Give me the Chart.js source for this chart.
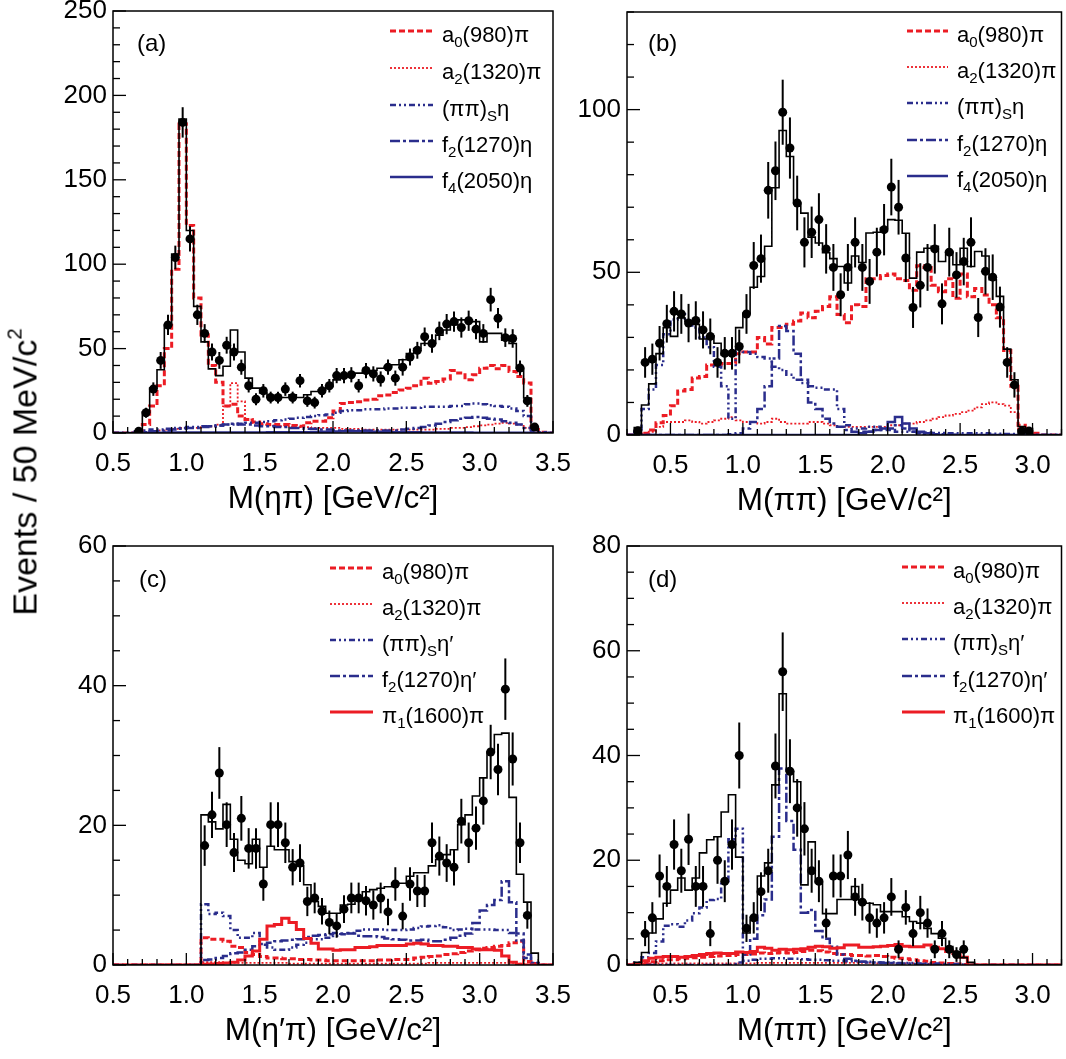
<!DOCTYPE html>
<html><head><meta charset="utf-8">
<script src="https://cdn.jsdelivr.net/npm/chart.js@4.4.0/dist/chart.umd.min.js"></script>
<style>
html,body{margin:0;padding:0;background:#fff;}
#wrap{position:relative;width:1066px;height:1059px;overflow:hidden;background:#fff;}
canvas{position:absolute;left:0;top:0;}
#ytitle{position:absolute;left:25px;top:472px;transform:translate(-50%,-50%) rotate(-90deg);white-space:nowrap;font-family:'Liberation Sans',Arial,Helvetica,sans-serif;font-size:34px;color:#000;}
#ytitle sup{font-size:0.6em;vertical-align:0.75em;line-height:0;}
</style></head>
<body>
<div id="wrap">
<canvas id="ca" width="1066" height="1059"></canvas>
<canvas id="cb" width="1066" height="1059"></canvas>
<canvas id="cc" width="1066" height="1059"></canvas>
<canvas id="cd" width="1066" height="1059"></canvas>
<div id="ytitle">Events / 50 MeV/c<sup>2</sup></div>
</div>
<script>
// ---------------- DATA ----------------
const binWidth = 0.05; // GeV/c^2 (50 MeV)

// Panel (a): M(eta pi)
const aBinStart = 0.65;
const aData = [1,12,26,43,64, 104,184,115,70,59, 48,43,52,48,39, 28,20,25,21,21, 26,21,31,19,18, 25,28,34,34,34.5, 28,37,35,32,39, 32.5,39,45,49,57, 53,60.5,64.5,66,62.5, 66.5,61.5,59,79,68, 56.5,56,38.5,19,3.5];
const aErr = [1.5,3,4,5,6, 7,9,7.5,6,5.5, 5,5,5,5,4.5, 4,3.5,4,3.5,3.5, 4,3.5,4,3.5,3.5, 4,4,4.5,4.5,4.5, 4,4.5,4.5,4.5,4.5, 4.5,5,5,5,5.5, 5.5,5.5,6,6,6, 6,6,5.5,7,6, 5.5,5.5,4.5,3.5,2];
const aTotal = [1,12.4,26.6,37.5,64, 106,186,120,75,54, 38,34,39.5,61,48, 32.5,26.6,23.7,21,21, 21,22.7,21,22.7,24.6, 25.6,27.6,31.5,33.5,34.5, 35.5,36,37,38.4,39.4, 40.4,43.4,47,50,53, 53,58,61,64,67, 67,66,54,59,59, 55,53,38.4,20.7,3, 0];
const aA0 = [0.5,5,16,28,50, 97,183,123,80,58, 40,30,16,17,10, 8,6.5,5.5,5,5, 5,4.5,4,6,7, 7,9,13,17.5,18, 18.5,19.5,20,22,22.5, 24,25.5,26.5,28,32.5, 29.5,30.5,32,37,35.5, 31.5,34.5,38.4,40,38, 40,36.5,33.5,29.6,2, 0.5];
const aA2 = [0,0.5,1,1.5,2, 2.5,3,3,3,3.5, 4,5,15.8,29.6,18.7, 8,6,5,4.5,4, 4,3.5,3.5,3.5,3, 3,3,3,2.5,2.5, 2.5,2,2,2,2, 2,2,2,2,2, 2,2.5,2.5,3,3, 3.5,4,4.5,5,5.5, 6,5.5,5,3,0.5, 0];
const aPiPiS = [1,1.5,2,2,2.5, 3,3,3.5,3.5,4, 4,4.5,5,5,5.5, 6,6,6.5,7,7.5, 8,8.5,9,9.5,10, 10.5,11,12,13,13.5, 13.5,14,14,14,14.5, 14.5,15,15,15,15.5, 15.5,15.5,15.5,16,16, 17,17.5,17,16.5,16, 15.5,14.5,13,10,2, 0.5];
const aF2 = [0.5,0.5,1,1,1.5, 2,2.5,3,3,3.5, 4,4.5,5,5.5,5, 5,4.5,4,4,3.5, 3.5,3,3,2.5,2.5, 2,2,1.5,1.5,1.5, 1.5,1.5,1.5,1.5,1.5, 1.5,2,2.5,3,3.5, 4.5,5.5,6.5,7.5,8.5, 9,9.5,9,8.5,8, 7,6,5,3,0.5, 0];
const aF4 = [0.2,0.2,0.2,0.2,0.3, 0.3,0.3,0.3,0.3,0.3, 0.3,0.3,0.3,0.3,0.3, 0.3,0.3,0.3,0.4,0.4, 0.4,0.4,0.5,0.5,0.6, 0.7,0.8,0.9,1.0,1.0, 1.0,0.9,0.8,0.7,0.6, 0.5,0.5,0.4,0.4,0.3, 0.3,0.3,0.3,0.3,0.3, 0.3,0.2,0.2,0.2,0.2, 0.2,0.2,0.2,0.2,0.1, 0];

// Panel (b): M(pi pi), eta pi pi
const bBinStart = 0.20;
const bDataStart = 0.25;
const bData = [1.3,22.3,23.3,28.2,34.2, 38,37.2,34.4,35.2,32.3, 30.3,22.3,25.1,25.1,27.2, 37.2,52.1,54.2,75.2,81.2, 99.2,88.2,71.3,59.2,62.3, 66.2,57.2,51.5,43.1,51.5, 59.2,51.5,47.2,56.2,63.1, 76.2,70,54.4,39.2,46, 51.5,57.2,40.3,56.2,49.2, 53.3,59.2,36.1,50.3,48.5, 39.3,22.3,15.4,1.2,1.2];
const bErr = [1.2,4.7,4.8,5.3,5.8, 6.2,6.1,5.9,5.9,5.7, 5.5,4.7,5,5,5.2, 6.1,7.2,7.4,8.7,9, 10,9.4,8.4,7.7,7.9, 8.1,7.6,7.2,6.6,7.2, 7.7,7.2,6.9,7.5,7.9, 8.7,8.4,7.4,6.3,6.8, 7.2,7.6,6.3,7.5,7, 7.3,7.7,6,7.1,7, 6.3,4.7,3.9,1.1,1.1];
const bTotal = [0,2.3,9.2,15.7,25, 33,30.3,36,35,34, 29.5,30.5,28.2,24.6,24.6, 33,37.4,45.4,48.7,58, 76,93.6,85.6,71.3,68.2, 60.8,59,56,54.2,51.8, 46.7,55,53,62.1,62.3, 63.6,66.2,66,62,48.2, 56.2,57.4,58,53.3,56.4, 52.3,57.4,51.8,56.4,55, 47.7,42.6,26.4,17,2.6, 2,0,0];
const bA0 = [0,0,0.5,1.5,3.8, 6,9,13.5,14,17.5, 18,21.5,21.5,22,22, 25,25.5,25.5,30,28, 33,33,34,35,37.5, 36,38,39.5,42.5,37, 34.5,40,39.5,48,48, 49,49.5,48,47.5,44.5, 52,51.5,46,44,48, 42,49.5,42.5,45,43, 40,36,26,15,3, 1,0.5,0];
const bA2 = [0,0,0.5,1,2.5, 4,4,4,4.5,4, 3.5,4,4.5,5,5.5, 4.5,4,4,3.5,4, 5,4,3.5,3.5,3.5, 4,4,3.5,3,2.5, 2.5,2.5,2.5,2.5,2.5, 2.5,3,3,3.5,3.5, 4,4.5,5,5.5,6, 6.5,7,7.5,8.5,9.5, 10,9.5,9,7,2, 1,0.5,0];
const bPiPiS = [0,1,8,14,21.5, 31,35.5,37.5,35,33, 30,27,21,15,5, 26,25.5,25,24,23.5, 21,20,18.5,17,16, 15,14.5,14,14,8, 3,2,2,2.5,2.5, 2,1.5,1,1,1, 0.8,0.8,0.6,0.6,0.5, 0.5,0.5,0.5,0.5,0.5, 0.4,0.4,0.3,0.3,0.1, 0,0,0];
const bF2 = [0,0,0,0,0, 0,0,0,0,0, 0,0,0,0,0.2, 0.5,2,4,8,15, 23.5,33.5,32,25,17, 10,8,5,3.5,2.5, 1.5,1,1,1,1.5, 1.5,2,3,2,1, 0.5,0.3,0.2,0.2,0.1, 0.1,0,0,0,0, 0,0,0,0,0, 0,0,0];
const bF4 = [0,0,0,0,0, 0,0,0,0,0, 0,0,0,0,0, 0,0,0,0,0, 0,0,0,0,0, 0,0,0,0,0, 0,0,0.5,1,1.5, 2,4,5.5,3.5,2, 1,0.5,0,0,0, 0,0,0,0,0, 0,0,0,0,0, 0,0,0];

// Panel (c): M(eta' pi)
const cBinStart = 1.10;
const cData = [17.1,21.5,27.5,20.1,16.1, 21,16.7,16.7,11.6,20.1, 20.1,17.5,14,14.6,9.1, 9.6,7.7,6.1,5.6,8, 9.6,9.6,9.2,8.6,9.6, 7.6,11.6,7,11.6,10.6, 10.6,17.5,15.6,14.6,14, 20.6,17.5,19.6,23.5,30.5, 28,39.5,29.5,17.5,7.1];
const cErr = [2.9,3.3,3.7,3.2,2.8, 3.2,2.9,2.9,2.4,3.2, 3.2,2.9,2.6,2.7,2.1, 2.2,1.9,1.7,1.7,2, 2.2,2.2,2.1,2.1,2.2, 1.9,2.4,1.9,2.4,2.3, 2.3,2.9,2.8,2.7,2.6, 3.2,2.9,3.1,3.4,3.9, 3.7,4.4,3.8,2.9,1.9];
const cTotal = [21.5,20.5,19.5,23,18, 15,14.5,18,14,17, 16.5,16.5,14.8,14.2,11.5, 9.1,8.4,7.4,7.4,8.6, 8.7,9.8,10.5,10.8,11, 11.2,11.7,11.7,12.7,13.2, 13.2,14.2,15.1,15.8,16.5, 20.1,21.5,24.2,26.8,30.5, 33,33.2,24,13,9, 1.7];
const cA0 = [3.9,3.7,3.7,3.4,2.7, 2.5,1.8,1.5,1.2,1.0, 1.0,0.9,0.9,0.8,0.8, 0.7,0.7,0.6,0.6,0.6, 0.6,0.6,0.6,0.6,0.7, 0.7,0.8,0.8,0.8,1.0, 1.1,1.2,1.3,1.5,1.6, 1.8,2.0,2.2,2.4,2.5, 2.7,2.8,3.2,3.4,0.5, 0.2];
const cA2 = [0.4,0.4,0.4,0.3,0.3, 0.3,0.3,0.3,0.3,0.3, 0.3,0.3,0.2,0.2,0.2, 0.2,0.2,0.2,0.2,0.2, 0.2,0.2,0.2,0.2,0.2, 0.2,0.2,0.2,0.2,0.2, 0.2,0.3,0.3,0.3,0.3, 0.3,0.3,0.3,0.3,0.3, 0.3,0.3,0.3,0.2,0.1, 0];
const cPiPiS = [8.7,7.3,7.5,7.0,5.0, 3.9,3.9,4.6,3.0,2.5, 2.2,2.2,2.5,2.9,3.2, 3.7,3.7,3.9,4.2,4.4, 4.6,4.9,5.1,5.1,5.1, 5.0,5.0,5.0,5.1,5.3, 5.5,5.6,5.7,5.4,5.0, 5.1,5.2,5.1,5.1,5.1, 5.0,5.0,4.6,3.5,1.0, 0.3];
const cF2 = [0.7,0.8,1.0,1.3,1.7, 1.8,2.2,2.7,2.9,3.2, 3.4,3.5,3.6,3.7,4.0, 4.2,4.3,4.4,4.6,4.5, 4.5,4.2,4.1,4.1,4.0, 3.8,3.7,3.6,3.5,3.5, 3.6,3.4,3.4,3.6,3.9, 4.2,4.5,6.0,7.8,8.6, 9.3,12,9,4.5,1.5, 0.3];
const cPi1 = [0.1,0.15,0.2,0.3,0.4, 0.7,1.3,2.0,3.7,5.6, 5.8,6.7,6.1,5.1,3.8, 3.1,2.3,2.3,2.1,2.2, 2.2,2.5,2.5,2.6,2.8, 2.8,2.8,2.8,3.0,3.1, 3.0,2.8,2.8,2.7,2.7, 2.5,2.5,2.3,2.2,2.2, 2.1,1.3,0.4,0.1,0, 0];

// Panel (d): M(pi pi), eta' pi pi
const dBinStart = 0.20;
const dDataStart = 0.30;
const dData = [6,9,17,15,23, 18,24,15,15,6, 20,16,23,40,7, 9,14,18,38,56, 37,30,26,18,16, 8,17,17,21,13, 12,9,8,9,13, 3,11,6,10,8, 3,6,3,2,3];
const dErr = [2.4,3,4.1,3.9,4.8, 4.2,4.9,3.9,3.9,2.4, 4.5,4,4.8,6.3,2.6, 3,3.7,4.2,6.2,7.5, 6.1,5.5,5.1,4.2,4, 2.8,4.1,4.1,4.6,3.6, 3.5,3,2.8,3,3.6, 1.7,3.3,2.4,3.2,2.8, 1.7,2.4,1.7,1.4,1.7];
const dTotal = [0,0.5,2.4,6.1,8.8, 11.8,14.3,16.6,14.3,16.6, 21.4,23.9,24.5,29.2,32.5, 20.6,6.1,8.6,17,19.5, 34.4,51.8,37,35,15.3, 23.5,15.7,9.8,9.8,12.5, 12.5,15,12,11.8,11.5, 10.2,10.2,10.2,9.2,8.3, 8,7,6,5.1,3.5, 2.5,1.4,0.5,0,0, 0];
const dA0 = [0,0,0.3,0.6,0.8, 1,1,1.2,1.3,1.4, 1.5,1.6,1.7,1.8,1.8, 2,2,2.1,2.3,2.2, 2.3,2.4,2.3,2.4,2.6, 2.8,2.7,2.5,2.2,2.0, 2.0,1.8,1.8,1.7,1.8, 1.6,1.5,1.3,1.2,1.0, 0.8,0.7,0.5,0.4,0.3, 0.2,0.1,0,0,0, 0];
const dA2 = [0,0,0.2,0.3,0.3, 0.3,0.3,0.3,0.3,0.3, 0.3,0.3,0.3,0.3,0.3, 0.3,0.3,0.3,0.4,0.4, 0.4,0.4,0.4,0.4,0.4, 0.4,0.4,0.4,0.4,0.4, 0.4,0.4,0.4,0.4,0.3, 0.3,0.3,0.3,0.3,0.3, 0.2,0.2,0.2,0.2,0.2, 0.1,0.1,0,0,0, 0];
const dPiPiS = [0,0.5,1.5,2.3,4.5, 7.5,7.8,7.3,8.5,9.9, 11,12.4,12.6,16,24, 26,0.8,1,1.2,1.2, 1.3,1.3,1.2,1.2,1.1, 1.0,1.0,0.9,0.8,0.8, 0.7,0.7,0.6,0.6,0.5, 0.5,0.5,0.4,0.4,0.4, 0.3,0.3,0.3,0.2,0.2, 0.2,0.1,0,0,0, 0];
const dF2 = [0,0,0,0,0, 0,0,0,0,0, 0,0,0,0,0, 0.5,2,5,9.5,12.5, 24.5,37.5,27.5,22,10, 10.5,6.5,5,3.5,2, 1.2,0.8,0.6,0.5,0.5, 0.4,0.4,0.3,0.3,0.2, 0.2,0.1,0.1,0,0, 0,0,0,0,0, 0];
const dPi1 = [0,0.3,0.8,1.3,1.5, 1.6,1.6,1.5,1.6,1.8, 2.0,2.2,2.3,2.2,2.2, 2.5,2.4,2.6,3.4,3.2, 2.8,3.0,2.9,3.0,3.1, 3.4,3.6,3.5,3.2,3.3, 3.8,3.8,3.4,3.4,3.5, 3.6,3.7,3.9,3.6,3.5, 3.5,3.8,3.4,3.1,2.6, 2.2,1.5,0,0,0, 0];

// Axis ticks / labels
const xTicksAC = [0.5,1.0,1.5,2.0,2.5,3.0,3.5];
const xTicksBD = [0.5,1.0,1.5,2.0,2.5,3.0];
const yTicksA = [0,50,100,150,200,250];
const yTicksB = [0,50,100];
const yTicksC = [0,20,40,60];
const yTicksD = [0,20,40,60,80];
const legendEta = ['a_0(980)π','a_2(1320)π','(ππ)_Sη','f_2(1270)η','f_4(2050)η'];
const legendEtaP = ['a_0(980)π','a_2(1320)π','(ππ)_Sη′','f_2(1270)η′','π_1(1600)π'];

// ---------------- STYLE ----------------
const FONT = "'Liberation Sans', Arial, Helvetica, sans-serif";
const RED = '#ec1c24';
const NAVY = '#2a2d8c';
const STY = {
  a0:   {color: RED,  width: 3,   dash: [6, 3]},
  a2:   {color: RED,  width: 1.8, dash: [2, 2]},
  pipi: {color: NAVY, width: 2.5, dash: [6, 3, 2, 3, 2, 3]},
  f2:   {color: NAVY, width: 2.5, dash: [10, 3, 3, 3]},
  f4:   {color: NAVY, width: 2.5, dash: []},
  pi1:  {color: RED,  width: 3,   dash: []},
  tot:  {color: '#000', width: 1.6, dash: []}
};
const W = 1066, H = 1059, YW = 60, XH = 90;

function histDataset(start, vals, xmin, xmax, st) {
  const pts = [{x: xmin, y: 0}];
  vals.forEach((v, i) => pts.push({x: start + i * binWidth, y: v}));
  pts.push({x: start + vals.length * binWidth, y: 0});
  pts.push({x: xmax, y: 0});
  return {data: pts, stepped: true, borderColor: st.color, borderWidth: st.width,
          borderDash: st.dash, pointRadius: 0, fill: false, tension: 0, borderCapStyle: 'butt'};
}

const framePlugin = {
  id: 'frame',
  afterDatasetsDraw(chart) {
    const {ctx, scales: {x, y}} = chart;
    chart.data.datasets.forEach(ds => {
      if (!ds.errors) return;
      ctx.save();
      ctx.strokeStyle = '#000'; ctx.lineWidth = 2;
      ds.data.forEach((p, j) => {
        const e = ds.errors[j];
        const px = x.getPixelForValue(p.x);
        ctx.beginPath();
        ctx.moveTo(px, y.getPixelForValue(Math.max(p.y - e, 0)));
        ctx.lineTo(px, y.getPixelForValue(p.y + e));
        ctx.stroke();
      });
      ctx.restore();
    });
  },
  afterDraw(chart) {
    const o = chart.options.plugins.frame;
    const {ctx, chartArea: a, scales: {x, y}} = chart;
    ctx.save();
    ctx.strokeStyle = '#000'; ctx.lineWidth = 1.5;
    ctx.strokeRect(a.left, a.top, a.right - a.left, a.bottom - a.top);
    const tick = (min, max, step, major, fn) => {
      const n0 = Math.ceil(min / step - 1e-6), n1 = Math.floor(max / step + 1e-6);
      for (let n = n0; n <= n1; n++) {
        const v = n * step; const r = v / major;
        fn(v, Math.abs(r - Math.round(r)) < 1e-6);
      }
    };
    ctx.lineWidth = 1.3;
    tick(x.min, x.max, o.xMinor, o.xMajor, (v, maj) => {
      const px = x.getPixelForValue(v);
      ctx.beginPath(); ctx.moveTo(px, a.bottom); ctx.lineTo(px, a.bottom - (maj ? 12 : 6)); ctx.stroke();
    });
    tick(y.min, y.max, o.yMinor, o.yMajor, (v, maj) => {
      const py = y.getPixelForValue(v);
      ctx.beginPath(); ctx.moveTo(a.left, py); ctx.lineTo(a.left + (maj ? 13 : 7), py); ctx.stroke();
    });
    ctx.fillStyle = '#000';
    ctx.font = '24px ' + FONT;
    ctx.textBaseline = 'alphabetic';
    ctx.fillText(o.label, o.labelX, o.labelY);
    o.legend.forEach((ent, i) => {
      const ry = o.legY[i];
      ctx.save();
      ctx.strokeStyle = ent.st.color; ctx.lineWidth = ent.st.width; ctx.setLineDash(ent.st.dash);
      ctx.beginPath(); ctx.moveTo(o.legX1, ry); ctx.lineTo(o.legX2, ry); ctx.stroke();
      ctx.restore();
      let tx = o.legTX;
      const parts = ent.text.split(/(_.)/);
      parts.forEach(pt => {
        if (!pt) return;
        if (pt[0] === '_') {
          ctx.font = '15px ' + FONT;
          ctx.fillText(pt[1], tx, ry + 16);
          tx += ctx.measureText(pt[1]).width;
        } else {
          ctx.font = '22px ' + FONT;
          ctx.fillText(pt, tx, ry + 11);
          tx += ctx.measureText(pt).width;
        }
      });
    });
    ctx.restore();
  }
};

function makePanel(id, p) {
  const dataPts = p.data.map((v, i) => ({x: p.dataStart + (i + 0.5) * binWidth, y: v}));
  const datasets = [
    {data: dataPts, errors: p.err, showLine: false, pointRadius: 4.5, pointBackgroundColor: '#000',
     pointBorderColor: '#000', pointBorderWidth: 0, borderColor: '#000'},
    histDataset(p.binStart, p.total, p.xmin, p.xmax, STY.tot)
  ];
  p.comps.forEach(c => datasets.push(histDataset(p.binStart, c.v, p.xmin, p.xmax, c.st)));
  new Chart(document.getElementById(id), {
    type: 'line',
    data: {datasets},
    options: {
      responsive: false, animation: false, devicePixelRatio: 1,
      events: [],
      layout: {padding: {left: p.area.l - YW, top: p.area.t, right: W - p.area.r, bottom: H - p.area.b - XH}},
      plugins: {
        legend: {display: false}, tooltip: {enabled: false},
        frame: {xMinor: 0.1, xMajor: 0.5, yMinor: p.yMinor, yMajor: p.yMajor,
                label: p.label, labelX: p.labelX, labelY: p.labelY,
                legend: p.legend, legX1: p.legX1, legX2: p.legX2, legTX: p.legTX, legY: p.legY}
      },
      scales: {
        x: {type: 'linear', min: p.xmin, max: p.xmax,
            grid: {display: false, drawTicks: false}, border: {display: false},
            ticks: {font: {size: 26, family: FONT}, color: '#000', padding: 15, autoSkip: false, maxRotation: 0,
                    callback: v => Number(v).toFixed(1)},
            afterBuildTicks: s => { s.ticks = p.xTicks.map(v => ({value: v})); },
            afterFit: s => { s.height = XH; s.paddingLeft = 0; s.paddingRight = 0; },
            title: {display: true, text: p.xTitle, font: {size: 31.5, family: FONT}, color: '#000', padding: {top: 0, bottom: 5}}},
        y: {type: 'linear', min: 0, max: p.ymax,
            grid: {display: false, drawTicks: false}, border: {display: false},
            ticks: {font: {size: 26, family: FONT}, color: '#000', padding: 6, autoSkip: false,
                    callback: v => String(v)},
            afterBuildTicks: s => { s.ticks = p.yTicks.map(v => ({value: v})); },
            afterFit: s => { s.width = YW; s.paddingTop = 0; s.paddingBottom = 0; }}
      }
    },
    plugins: [framePlugin]
  });
}

const legEta = [STY.a0, STY.a2, STY.pipi, STY.f2, STY.f4].map((st, i) => ({st, text: legendEta[i]}));
const legEtaP = [STY.a0, STY.a2, STY.pipi, STY.f2, STY.pi1].map((st, i) => ({st, text: legendEtaP[i]}));

makePanel('ca', {
  area: {l: 113, t: 11, r: 553, b: 433}, xmin: 0.5, xmax: 3.5, ymax: 250, yMinor: 10, yMajor: 50,
  xTicks: xTicksAC, yTicks: yTicksA, xTitle: 'M(ηπ) [GeV/c²]',
  binStart: aBinStart, dataStart: aBinStart, data: aData, err: aErr, total: aTotal,
  comps: [{v: aF4, st: STY.f4}, {v: aF2, st: STY.f2}, {v: aPiPiS, st: STY.pipi}, {v: aA2, st: STY.a2}, {v: aA0, st: STY.a0}],
  label: '(a)', labelX: 137, labelY: 51,
  legend: legEta, legX1: 390, legX2: 433, legTX: 442, legY: [31, 68, 105, 141, 177]
});
makePanel('cb', {
  area: {l: 627, t: 12, r: 1063, b: 435}, xmin: 0.2, xmax: 3.2, ymax: 130, yMinor: 10, yMajor: 50,
  xTicks: xTicksBD, yTicks: yTicksB, xTitle: 'M(ππ) [GeV/c²]',
  binStart: bBinStart, dataStart: bDataStart, data: bData, err: bErr, total: bTotal,
  comps: [{v: bF4, st: STY.f4}, {v: bF2, st: STY.f2}, {v: bPiPiS, st: STY.pipi}, {v: bA2, st: STY.a2}, {v: bA0, st: STY.a0}],
  label: '(b)', labelX: 648, labelY: 51,
  legend: legEta, legX1: 907, legX2: 948, legTX: 957, legY: [31, 67, 103, 140, 176]
});
makePanel('cc', {
  area: {l: 113, t: 546, r: 553, b: 965}, xmin: 0.5, xmax: 3.5, ymax: 60, yMinor: 5, yMajor: 20,
  xTicks: xTicksAC, yTicks: yTicksC, xTitle: 'M(η′π) [GeV/c²]',
  binStart: cBinStart, dataStart: cBinStart, data: cData, err: cErr, total: cTotal,
  comps: [{v: cPi1, st: STY.pi1}, {v: cF2, st: STY.f2}, {v: cPiPiS, st: STY.pipi}, {v: cA2, st: STY.a2}, {v: cA0, st: STY.a0}],
  label: '(c)', labelX: 139, labelY: 587,
  legend: legEtaP, legX1: 330, legX2: 373, legTX: 382, legY: [568, 604, 640, 676, 712]
});
makePanel('cd', {
  area: {l: 627, t: 546, r: 1063, b: 965}, xmin: 0.2, xmax: 3.2, ymax: 80, yMinor: 5, yMajor: 20,
  xTicks: xTicksBD, yTicks: yTicksD, xTitle: 'M(ππ) [GeV/c²]',
  binStart: dBinStart, dataStart: dDataStart, data: dData, err: dErr, total: dTotal,
  comps: [{v: dPi1, st: STY.pi1}, {v: dF2, st: STY.f2}, {v: dPiPiS, st: STY.pipi}, {v: dA2, st: STY.a2}, {v: dA0, st: STY.a0}],
  label: '(d)', labelX: 648, labelY: 587,
  legend: legEtaP, legX1: 902, legX2: 945, legTX: 953, legY: [567, 603, 639, 676, 712]
});
</script>
</body></html>
